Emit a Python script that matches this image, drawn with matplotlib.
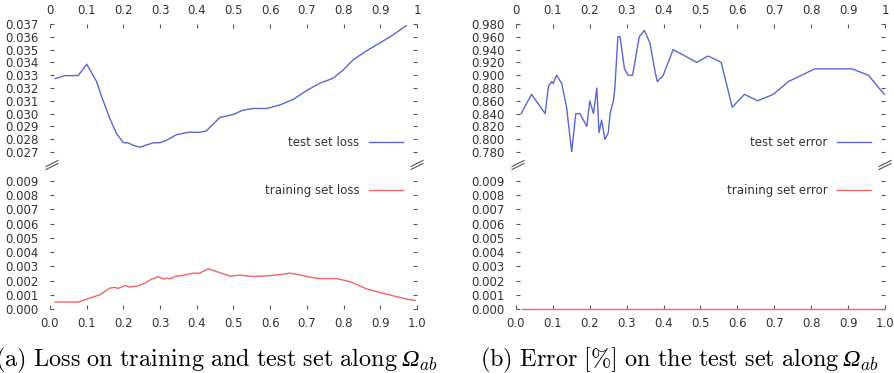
import numpy as np
import matplotlib.pyplot as plt
from matplotlib.lines import Line2D

plt.rcParams.update({'font.size': 8.5, 'font.family': 'DejaVu Sans',
                     'mathtext.fontset': 'cm'})

# (a) loss along Omega_ab
test_loss_x = [0.014, 0.041, 0.077, 0.100, 0.127, 0.141, 0.163, 0.181, 0.200, 0.213,
               0.227, 0.245, 0.263, 0.281, 0.300, 0.318, 0.345, 0.377, 0.408, 0.426,
               0.463, 0.499, 0.526, 0.554, 0.590, 0.626, 0.662, 0.699, 0.735, 0.771,
               0.799, 0.826, 0.862, 0.898, 0.935, 0.971]
test_loss_y = [0.03273, 0.03297, 0.03297, 0.03386, 0.0325, 0.0313, 0.02962, 0.02844,
               0.02773, 0.02771, 0.02752, 0.02737, 0.02755, 0.02771, 0.02773, 0.02792,
               0.02836, 0.02854, 0.02854, 0.02865, 0.0297, 0.02993, 0.03027, 0.0304,
               0.0304, 0.03067, 0.0311, 0.0318, 0.03237, 0.03276, 0.03341, 0.0342,
               0.0349, 0.0355, 0.03616, 0.03687]

train_loss_x = [0.014, 0.077, 0.109, 0.136, 0.163, 0.177, 0.186, 0.204, 0.218, 0.240,
                0.259, 0.277, 0.295, 0.309, 0.318, 0.327, 0.340, 0.372, 0.390, 0.408,
                0.431, 0.454, 0.490, 0.517, 0.554, 0.590, 0.626, 0.653, 0.681, 0.699,
                0.735, 0.780, 0.817, 0.862, 0.898, 0.935, 0.971, 0.995]
train_loss_y = [0.00049, 0.00049, 0.00077, 0.0010, 0.00147, 0.00152, 0.00145, 0.00165,
                0.00154, 0.00163, 0.00182, 0.0021, 0.00228, 0.0021, 0.00217, 0.00212,
                0.00228, 0.00242, 0.00252, 0.00252, 0.00282, 0.00263, 0.00231, 0.00238,
                0.00228, 0.00233, 0.00242, 0.00252, 0.0024, 0.00228, 0.00214, 0.00214,
                0.00193, 0.00142, 0.00117, 0.00093, 0.0007, 0.00061]

# (b) error along Omega_ab
test_err_x = [0.014, 0.042, 0.079, 0.088, 0.097, 0.101, 0.110, 0.124, 0.137, 0.151,
              0.162, 0.173, 0.192, 0.200, 0.210, 0.219, 0.225, 0.232, 0.241, 0.250,
              0.255, 0.264, 0.268, 0.276, 0.282, 0.294, 0.304, 0.316, 0.334, 0.348,
              0.363, 0.377, 0.383, 0.399, 0.426, 0.490, 0.521, 0.556, 0.586, 0.619,
              0.655, 0.697, 0.738, 0.810, 0.910, 0.955, 0.998]
test_err_y = [0.84, 0.87, 0.84, 0.883, 0.89, 0.887, 0.90, 0.887, 0.85, 0.78,
              0.84, 0.84, 0.82, 0.86, 0.84, 0.88, 0.81, 0.83, 0.80, 0.81,
              0.84, 0.86, 0.88, 0.96, 0.96, 0.91, 0.90, 0.90, 0.96, 0.97,
              0.95, 0.905, 0.89, 0.90, 0.94, 0.92, 0.93, 0.92, 0.85, 0.87,
              0.86, 0.87, 0.89, 0.91, 0.91, 0.90, 0.87]
train_err_x = [0.015, 1.0]
train_err_y = [0.0, 0.0]

top_xticks = [0, 0.1, 0.2, 0.3, 0.4, 0.5, 0.6, 0.7, 0.8, 0.9, 1]
top_xlabels = ['0', '0.1', '0.2', '0.3', '0.4', '0.5', '0.6', '0.7', '0.8', '0.9', '1']
bot_xlabels = ['0.0', '0.1', '0.2', '0.3', '0.4', '0.5', '0.6', '0.7', '0.8', '0.9', '1.0']
loss_top_ticks = [0.027 + 0.001 * i for i in range(11)]
err_top_ticks = [0.78 + 0.02 * i for i in range(11)]
bot_ticks = [0.001 * i for i in range(10)]

blue = '#5868cc'
red = '#f26464'
txt = '#333333'

W, H = 895, 373
fig = plt.figure(figsize=(W / 100, H / 100), dpi=100)


def px_axes(x0, x1, y0, y1):
    return fig.add_axes([x0 / W, 1 - y1 / H, (x1 - x0) / W, (y1 - y0) / H])


def style(ax, top):
    for s in ax.spines.values():
        s.set_visible(False)
    ax.set_xlim(0, 1)
    ax.tick_params(direction='in', length=3, width=0.8, color='#555555',
                   labelcolor=txt, labelsize=8.5)
    ax.tick_params(axis='y', left=True, right=True, pad=8)
    ax.set_xticks(top_xticks)
    if top:
        ax.xaxis.tick_top()
        ax.set_xticklabels(top_xlabels)
        ax.tick_params(axis='x', pad=5)
    else:
        ax.set_xticklabels(bot_xlabels)
        ax.tick_params(axis='x', pad=6)


def breaks(x, y):
    for dy in (-1.5, 1.5):
        fig.add_artist(Line2D([(x - 6) / W, (x + 6) / W],
                              [1 - (y + 3 + dy) / H, 1 - (y - 3 + dy) / H],
                              color='#555555', lw=0.8))


for (x0, x1), tx, ty, trx, tryy, ttk, l1, l2 in [
        ((50, 417), test_loss_x, test_loss_y, train_loss_x, train_loss_y,
         loss_top_ticks, 'test set loss', 'training set loss'),
        ((516, 885), test_err_x, test_err_y, train_err_x, train_err_y,
         err_top_ticks, 'test set error', 'training set error')]:
    at = px_axes(x0, x1, 24, 152)
    style(at, True)
    at.set_ylim(ttk[0], ttk[-1])
    at.set_yticks(ttk)
    at.set_yticklabels(['{:.3f}'.format(v) for v in ttk])
    at.plot(tx, ty, color=blue, lw=1)
    h = Line2D([], [], color=blue, lw=1)
    at.legend([h], [l1], loc='lower right', frameon=False, markerfirst=False,
              handlelength=2.9, labelcolor=txt, borderaxespad=0.1,
              bbox_to_anchor=(0.978, -0.02))

    ab = px_axes(x0, x1, 181, 309)
    style(ab, False)
    ab.set_ylim(0, 0.009)
    ab.set_yticks(bot_ticks)
    ab.set_yticklabels(['{:.3f}'.format(v) for v in bot_ticks])
    ab.plot(trx, tryy, color=red, lw=1, clip_on=False)
    h = Line2D([], [], color=red, lw=1)
    ab.legend([h], [l2], loc='upper right', frameon=False, markerfirst=False,
              handlelength=2.9, labelcolor=txt, borderaxespad=0.1,
              bbox_to_anchor=(0.978, 1.02))

    breaks(x0 + 2, 165)
    breaks(x1, 165)

# captions: Computer Modern text, italic Omega with subscript
renderer = fig.canvas.get_renderer()
for xstart, cap in [(-5, r'$\mathrm{(a)\ Loss\ on\ training\ and\ test\ set\ along}\ $'),
                    (480, r'$\mathrm{(b)\ Error\ [\%]\ on\ the\ test\ set\ along}\ $')]:
    base = 1 - 366 / H
    t = fig.text(xstart / W, base, cap, ha='left', va='baseline', fontsize=17.5)
    bb = t.get_window_extent(renderer)
    om = fig.text(bb.x1 / W + 3 / W, base, 'Ω', ha='left', va='baseline',
                  fontsize=17.5, family='Liberation Serif', style='italic')
    bo = om.get_window_extent(renderer)
    fig.text(bo.x1 / W, base - 4 / H, r'$ab$', ha='left', va='baseline',
             fontsize=12.5)

fig.savefig('out.png', dpi=100, facecolor='white')
